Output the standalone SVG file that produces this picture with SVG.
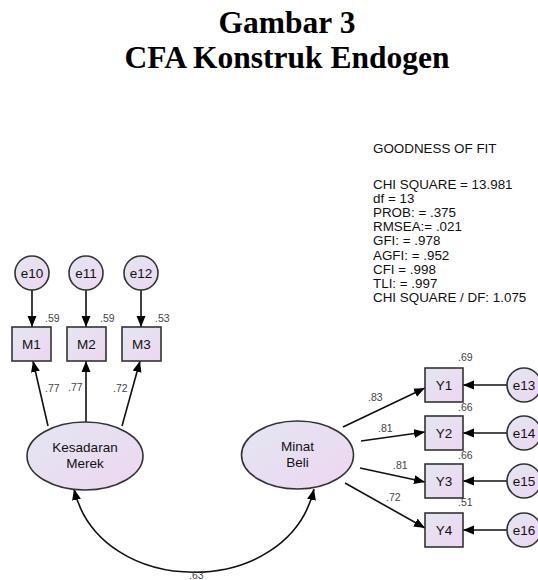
<svg xmlns="http://www.w3.org/2000/svg" width="538" height="580" viewBox="0 0 538 580">
<defs>
<linearGradient id="g" x1="0" y1="0" x2="1" y2="1">
<stop offset="0" stop-color="#e3e6f1"/>
<stop offset="1" stop-color="#eed6f1"/>
</linearGradient>
<marker id="ah" markerUnits="userSpaceOnUse" markerWidth="12" markerHeight="10" refX="11" refY="5" orient="auto-start-reverse">
<path d="M0,0.5 L11,5 L0,9.5 z" fill="#000"/>
</marker>
<style>
.title{font-family:"Liberation Serif",serif;font-weight:bold;font-size:31.5px;fill:#000;text-anchor:middle}
.gof{font-family:"Liberation Sans",Arial,sans-serif;font-size:13.4px;fill:#111}
.lbl{font-family:"Liberation Sans",Arial,sans-serif;font-size:13.5px;fill:#111;text-anchor:middle}
.coef{font-family:"Liberation Sans",Arial,sans-serif;font-size:10.5px;fill:#444}
.shape{fill:url(#g);stroke:#333;stroke-width:1.6}
.edge{fill:none;stroke:#111;stroke-width:1.6;marker-end:url(#ah)}
</style>
</defs>
<rect width="538" height="580" fill="#fff"/>
<text class="title" x="287" y="33">Gambar 3</text>
<text class="title" x="287" y="68">CFA Konstruk Endogen</text>
<g id="gof" class="gof">
<text x="373" y="153">GOODNESS OF FIT</text>
<text x="373" y="189">CHI SQUARE = 13.981</text>
<text x="373" y="203.1">df = 13</text>
<text x="373" y="217.2">PROB: = .375</text>
<text x="373" y="231.3">RMSEA:= .021</text>
<text x="373" y="245.4">GFI: = .978</text>
<text x="373" y="259.5">AGFI: = .952</text>
<text x="373" y="273.6">CFI = .998</text>
<text x="373" y="287.7">TLI: = .997</text>
<text x="373" y="301.8">CHI SQUARE / DF: 1.075</text>
</g>
<g id="connectors">
<line class="edge" x1="32" y1="290" x2="32" y2="327"/>
<line class="edge" x1="86" y1="290" x2="86" y2="327"/>
<line class="edge" x1="141" y1="290" x2="141" y2="327"/>
<line class="edge" x1="48" y1="426" x2="33" y2="361"/>
<line class="edge" x1="86" y1="422" x2="86" y2="361"/>
<line class="edge" x1="122" y1="426" x2="140" y2="361"/>
<line class="edge" x1="343" y1="427" x2="425" y2="388"/>
<line class="edge" x1="361" y1="441" x2="425" y2="432"/>
<line class="edge" x1="360" y1="468" x2="425" y2="482"/>
<line class="edge" x1="345" y1="483" x2="425" y2="528"/>
<line class="edge" x1="507" y1="385" x2="463" y2="385"/>
<line class="edge" x1="507" y1="433" x2="463" y2="433"/>
<line class="edge" x1="507" y1="481" x2="463" y2="481"/>
<line class="edge" x1="507" y1="530" x2="463" y2="530"/>
<path class="edge" d="M74,489 C100,600 288,600 314,489" marker-start="url(#ah)"/>
</g>
<g id="coefs" class="coef">
<text x="45" y="322">.59</text>
<text x="100" y="322">.59</text>
<text x="155" y="322">.53</text>
<text x="45" y="392">.77</text>
<text x="68" y="391">.77</text>
<text x="113" y="392">.72</text>
<text x="368" y="401">.83</text>
<text x="378" y="432">.81</text>
<text x="393" y="469">.81</text>
<text x="386" y="501">.72</text>
<text x="458" y="361">.69</text>
<text x="458" y="411">.66</text>
<text x="458" y="459">.66</text>
<text x="458" y="506">.51</text>
<text x="189" y="579">.63</text>
</g>
<g id="e10"><circle class="shape" cx="32" cy="273" r="17"/><text class="lbl" x="32" y="278">e10</text></g>
<g id="e11"><circle class="shape" cx="86" cy="273" r="17"/><text class="lbl" x="86" y="278">e11</text></g>
<g id="e12"><circle class="shape" cx="141" cy="273" r="17"/><text class="lbl" x="141" y="278">e12</text></g>
<g id="M1"><rect class="shape" x="12" y="327" width="39" height="34"/><text class="lbl" x="31.5" y="349">M1</text></g>
<g id="M2"><rect class="shape" x="67" y="327" width="39" height="34"/><text class="lbl" x="86.5" y="349">M2</text></g>
<g id="M3"><rect class="shape" x="122" y="327" width="39" height="34"/><text class="lbl" x="141.5" y="349">M3</text></g>
<g id="kesadaran"><ellipse class="shape" cx="85" cy="456" rx="58" ry="34"/><text class="lbl" x="85" y="452">Kesadaran</text><text class="lbl" x="85" y="468">Merek</text></g>
<g id="minat"><ellipse class="shape" cx="297.5" cy="455" rx="56" ry="34"/><text class="lbl" x="297.5" y="451">Minat</text><text class="lbl" x="297.5" y="467">Beli</text></g>
<g id="Y1"><rect class="shape" x="425" y="368" width="38" height="34"/><text class="lbl" x="444" y="390">Y1</text></g>
<g id="Y2"><rect class="shape" x="425" y="416" width="38" height="34"/><text class="lbl" x="444" y="438">Y2</text></g>
<g id="Y3"><rect class="shape" x="425" y="464" width="38" height="34"/><text class="lbl" x="444" y="486">Y3</text></g>
<g id="Y4"><rect class="shape" x="425" y="513" width="38" height="34"/><text class="lbl" x="444" y="535">Y4</text></g>
<g id="e13"><circle class="shape" cx="524" cy="385" r="17"/><text class="lbl" x="524" y="390">e13</text></g>
<g id="e14"><circle class="shape" cx="524" cy="433" r="17"/><text class="lbl" x="524" y="438">e14</text></g>
<g id="e15"><circle class="shape" cx="524" cy="481" r="17"/><text class="lbl" x="524" y="486">e15</text></g>
<g id="e16"><circle class="shape" cx="524" cy="530" r="17"/><text class="lbl" x="524" y="535">e16</text></g>
</svg>
